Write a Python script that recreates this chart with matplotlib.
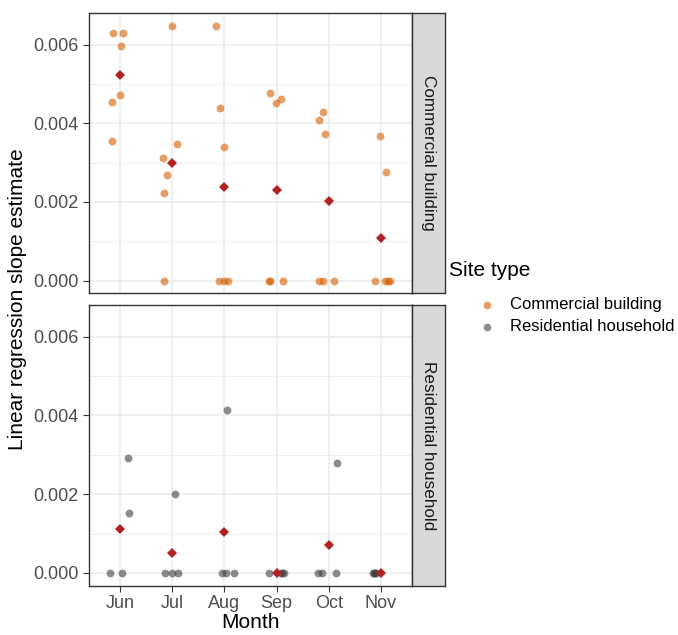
import numpy as np
import matplotlib
matplotlib.use("Agg")
import matplotlib.pyplot as plt
from matplotlib.lines import Line2D

plt.rcParams['font.family'] = ['Liberation Sans', 'DejaVu Sans']

months = ["Jun", "Jul", "Aug", "Sep", "Oct", "Nov"]
site_types = ["Commercial building", "Residential household"]

# Commercial building: slope estimates per month
com_jun = [0.006303, 0.006303, 0.005965, 0.004729, 0.004543, 0.003545]
com_jul = [0.006489, 0.003469, 0.003113, 0.002682, 0.002225, 0.0]
com_aug = [0.006472, 0.004382, 0.003409, 0.0, 0.0, 0.0]
com_sep = [0.004763, 0.004611, 0.004518, 0.0, 0.0, 0.0]
com_oct = [0.004289, 0.004086, 0.003723, 0.0, 0.0, 0.0]
com_nov = [0.003672, 0.002750, 0.0, 0.0, 0.0, 0.0]

# horizontal jitter (in month units) as seen in the picture
com_jit_jun = [-0.134, 0.057, 0.013, -0.006, -0.153, -0.159]
com_jit_jul = [0.006, 0.096, -0.172, -0.089, -0.153, -0.153]
com_jit_aug = [-0.159, -0.089, 0.0, -0.102, 0.0, 0.064]
com_jit_sep = [-0.121, 0.089, -0.019, -0.140, -0.134, 0.121]
com_jit_oct = [-0.108, -0.191, -0.076, -0.191, -0.108, 0.108]
com_jit_nov = [-0.025, 0.096, -0.115, 0.076, 0.140, 0.166]

# Residential household
res_jun = [0.002914, 0.001520, 0.0, 0.0]
res_jul = [0.002002, 0.0, 0.0, 0.0]
res_aug = [0.004139, 0.0, 0.0, 0.0]
res_sep = [0.0, 0.0, 0.0, 0.0]
res_oct = [0.002787, 0.0, 0.0, 0.0]
res_nov = [0.0, 0.0, 0.0, 0.0]

res_jit_jun = [0.159, 0.166, -0.191, 0.038]
res_jit_jul = [0.057, -0.127, 0.0, 0.108]
res_jit_aug = [0.057, -0.045, 0.025, 0.191]
res_jit_sep = [-0.140, 0.089, 0.108, 0.134]
res_jit_oct = [0.159, -0.204, -0.121, 0.140]
res_jit_nov = [-0.153, -0.134, -0.115, -0.096]

yticks = [0.000, 0.002, 0.004, 0.006]
ytick_labels = ["0.000", "0.002", "0.004", "0.006"]

commercial = [com_jun, com_jul, com_aug, com_sep, com_oct, com_nov]
commercial_jit = [com_jit_jun, com_jit_jul, com_jit_aug, com_jit_sep, com_jit_oct, com_jit_nov]
residential = [res_jun, res_jul, res_aug, res_sep, res_oct, res_nov]
residential_jit = [res_jit_jun, res_jit_jul, res_jit_aug, res_jit_sep, res_jit_oct, res_jit_nov]

colors = {"Commercial building": "#D55E00", "Residential household": "#404040"}
mean_color = "#B22222"

W, H = 678, 635
fig = plt.figure(figsize=(W / 100, H / 100), dpi=100)

def fx(px):
    return px / W

def fy(py):
    return 1 - py / H

panel_left, panel_right, strip_right = 88.5, 412.3, 444.5
panels_y = [(13.3, 293.3), (305.0, 585.7)]

groups = [(commercial, commercial_jit), (residential, residential_jit)]

for i, (site, (vals, jits)) in enumerate(zip(site_types, groups)):
    top, bot = panels_y[i]
    ax = fig.add_axes([fx(panel_left), fy(bot), fx(panel_right - panel_left), (bot - top) / H])
    ax.set_xlim(-0.6, 5.6)
    ax.set_ylim(-0.000324, 0.0068)
    ax.set_yticks(yticks)
    ax.set_yticks([0.001, 0.003, 0.005], minor=True)
    ax.set_xticks(range(len(months)))
    ax.grid(True, which='major', color='#EBEBEB', linewidth=1.1)
    ax.grid(True, which='minor', axis='y', color='#EBEBEB', linewidth=0.55)
    ax.set_axisbelow(True)
    ax.tick_params(which='minor', length=0)
    ax.tick_params(which='major', length=4, width=0.8, color='#333333',
                   labelsize=13, labelcolor='#4D4D4D', pad=3)
    ax.set_yticklabels(ytick_labels)
    if i == 0:
        ax.set_xticklabels([])
        ax.tick_params(axis='x', length=0)
    else:
        ax.set_xticklabels(months)
    for s in ax.spines.values():
        s.set_color('#333333')
        s.set_linewidth(1.0)
    for m, (v, j) in enumerate(zip(vals, jits)):
        xs = m + np.array(j)
        ax.scatter(xs, v, s=32, color=colors[site], alpha=0.6, linewidths=0, zorder=2)
    means = [np.mean(v) for v in vals]
    ax.plot(range(len(months)), means, linestyle='none', marker='D', markersize=5.0,
            color=mean_color, markeredgewidth=0, zorder=3)

    # strip
    sax = fig.add_axes([fx(panel_right), fy(bot), fx(strip_right - panel_right), (bot - top) / H])
    sax.set_facecolor('#D9D9D9')
    sax.set_xticks([])
    sax.set_yticks([])
    for s in sax.spines.values():
        s.set_color('#333333')
        s.set_linewidth(1.0)
    sax.text(0.5, 0.5, site, rotation=270, ha='center', va='center', fontsize=12.3,
             color='#1A1A1A', transform=sax.transAxes)

fig.text(fx(18), fy(299.5), "Linear regression slope estimate", rotation=90,
         ha='center', va='center', fontsize=15, color='black')
fig.text(fx(250.4), fy(623), "Month", ha='center', va='center', fontsize=15, color='black')

# legend
fig.text(fx(449), fy(271), "Site type", ha='left', va='center', fontsize=15, color='black')
for k, site in enumerate(site_types):
    yk = 305 + k * 21.5
    fig.add_artist(Line2D([fx(487)], [fy(yk)], transform=fig.transFigure, marker='o',
                          markersize=5.5, color=colors[site], alpha=0.6,
                          markeredgewidth=0, linestyle='none'))
    fig.text(fx(510), fy(yk), site, ha='left', va='center', fontsize=12, color='black')

fig.savefig("out.png", dpi=100)
